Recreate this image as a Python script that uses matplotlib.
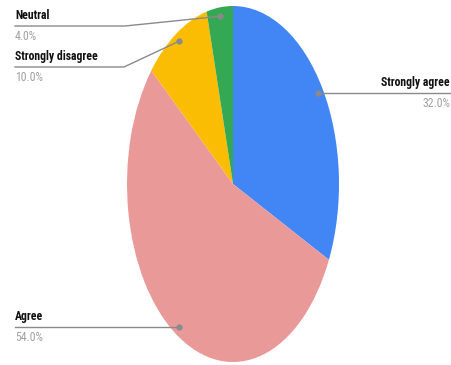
import numpy as np
import matplotlib.pyplot as plt
from matplotlib.lines import Line2D

labels = ["Strongly agree", "Agree", "Strongly disagree", "Neutral"]
values = [32.0, 54.0, 10.0, 4.0]
colors = ["#4285F4", "#EA9999", "#FBBC04", "#34A853"]

W, H = 452, 365
fig = plt.figure(figsize=(W / 100, H / 100), dpi=100)
ax = fig.add_axes([127 / W, 3 / H, 212 / W, 356 / H])
ax.pie(values, colors=colors, startangle=90, counterclock=False,
       wedgeprops=dict(linewidth=0))
ax.set_aspect("auto")
ax.set_xlim(-1, 1)
ax.set_ylim(-1, 1)
ax.axis("off")

font = ["Roboto Condensed", "DejaVu Sans"]
line_col = "#8a8a8a"

# label layout: line y (px from top), elbow x, label x-end, side
layout = {
    "Strongly agree": dict(y=94, elbow=None, end=452, side="right"),
    "Agree": dict(y=327, elbow=None, end=15, side="left"),
    "Strongly disagree": dict(y=67, elbow=124, end=15, side="left"),
    "Neutral": dict(y=26, elbow=125, end=15, side="left"),
}


def px(x, y):
    return x / W, 1 - y / H


total = sum(values)
cum = 0
for lab, v in zip(labels, values):
    mid = 90 - 360 * (cum + v / 2) / total
    cum += v
    a = np.deg2rad(mid)
    disp = ax.transData.transform((0.95 * np.cos(a), 0.95 * np.sin(a)))
    dx, dy = disp[0], H - disp[1]
    L = layout[lab]
    if L["elbow"] is None:
        xs = [dx, L["end"]]
        ys = [dy, dy]
        ly = dy
    else:
        xs = [dx, L["elbow"], L["end"]]
        ys = [dy, L["y"], L["y"]]
        ly = L["y"]
    fx, fy = zip(*[px(x, y) for x, y in zip(xs, ys)])
    fig.add_artist(Line2D(fx, fy, color=line_col, lw=1.0,
                          transform=fig.transFigure))
    fig.add_artist(Line2D([fx[0]], [fy[0]], marker="o", ms=3.5,
                          color=line_col, transform=fig.transFigure))
    if L["side"] == "right":
        tx, ha = L["end"] - 2, "right"
    else:
        tx, ha = L["end"], "left"
    fig.text(*px(tx, ly - 4), lab, ha=ha, va="bottom", fontsize=8.5,
             fontweight="bold", family=font, color="#111111")
    fig.text(*px(tx, ly + 4), f"{v:.1f}%", ha=ha, va="top", fontsize=8.5,
             family=font, color="#a0a0a0")

fig.savefig("out.png", dpi=100)
